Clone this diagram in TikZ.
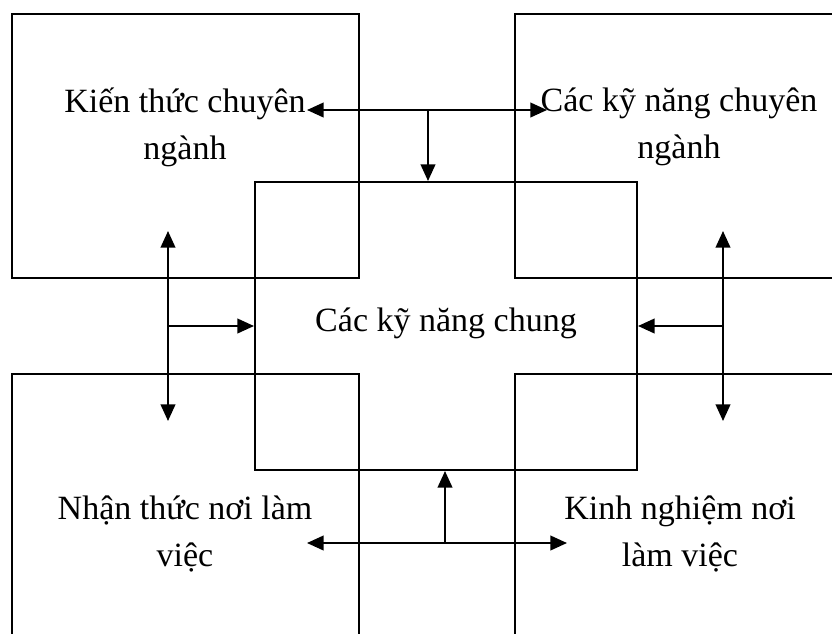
\documentclass[tikz,border=0pt]{standalone}
\usepackage{fontspec}
\setmainfont{Liberation Serif}
\usepackage{tikz}
\usetikzlibrary{arrows.meta}

\begin{document}
\begin{tikzpicture}[x=0.75pt,y=-0.75pt,>={Triangle[length=12.5pt,width=11pt]},line width=1.5pt,
  side box/.style={draw,rectangle,minimum width=260.25pt,minimum height=198pt,inner sep=0pt},
  mid box/.style={draw,rectangle,minimum width=286.5pt,minimum height=216pt,inner sep=0pt},
  txt/.style={align=center,inner sep=0pt,font=\fontsize{25.5}{35.25}\selectfont}]
  \useasboundingbox (0,0) rectangle (832,633);
  \clip (0,0) rectangle (832,633);
  % four boxes round the middle one
  \node[side box] (tl) at (185.5,146) {};
  \node[side box] (tr) at (688.5,146) {};
  \node[side box] (bl) at (185.5,506) {};
  \node[side box] (br) at (688.5,506) {};
  \node[mid box] (mid) at (446,326) {};
  % texts
  \node[txt] (kt) at (185,127) {Kiến thức chuyên\\ngành};
  \node[txt] (kn) at (679,127) {Các kỹ năng chuyên\\ngành};
  \node[txt,anchor=base] (kc) at (446,331) {Các kỹ năng chung};
  \node[txt] (nt) at (185,534) {Nhận thức nơi làm\\việc};
  \node[txt] (kg) at (680,534) {Kinh nghiệm nơi\\làm việc};
  % arrow ends
  \coordinate (ta) at (307,110);
  \coordinate (tb) at (547,110);
  \coordinate (tj) at (428,110);
  \coordinate (la) at (168,231);
  \coordinate (lb) at (168,421);
  \coordinate (ra) at (723,231);
  \coordinate (rb) at (723,421);
  \coordinate (ba) at (307,543);
  \coordinate (bb) at (567,543);
  \coordinate (bj) at (445,543);
  % arrows
  \draw[<->] (ta) -- (tb);
  \draw[->] (tj) -- (tj |- mid.north);
  \draw[<->] (la) -- (lb);
  \draw[->] (la |- mid.west) -- (mid.west);
  \draw[<->] (ra) -- (rb);
  \draw[->] (ra |- mid.east) -- (mid.east);
  \draw[<->] (ba) -- (bb);
  \draw[->] (bj) -- (bj |- mid.south);
\end{tikzpicture}
\end{document}
